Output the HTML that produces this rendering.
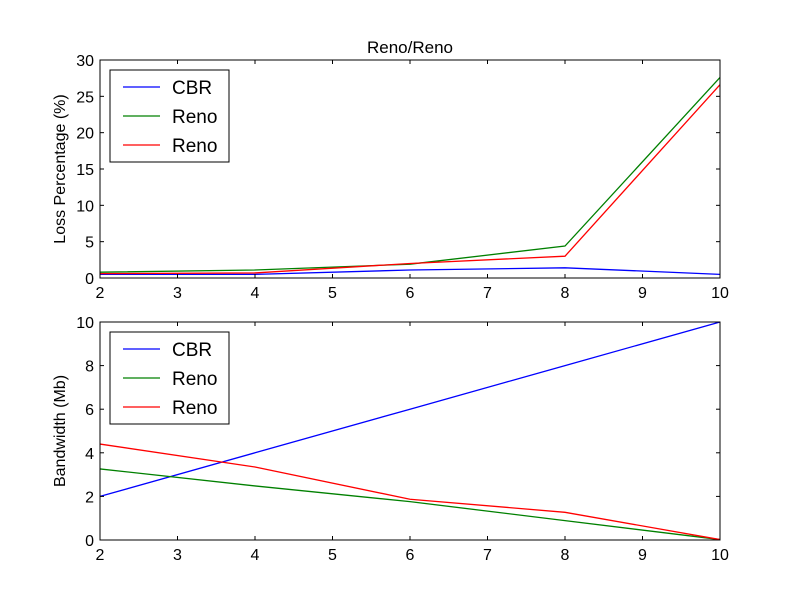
<!DOCTYPE html>
<html><head><meta charset="utf-8"><style>body{margin:0;background:#fff}svg{display:block;font-family:"Liberation Sans",sans-serif}</style></head>
<body>
<svg id="c" width="800" height="600" xmlns="http://www.w3.org/2000/svg">
<rect width="800" height="600" fill="#fff"/>
</svg>
<script>
const xs=[2,4,6,8,10];
const lossCBR=[0.5,0.5,1.1,1.4,0.5];
const lossReno1=[0.8,1.1,1.9,4.4,27.6];
const lossReno2=[0.6,0.7,2.0,3.0,26.6];
const bwCBR=[2,4,6,8,10];
const bwReno1=[3.26,2.48,1.76,0.89,0.02];
const bwReno2=[4.4,3.35,1.87,1.27,0.02];
const xTicks=[2,3,4,5,6,7,8,9,10];
const topTicks=[0,5,10,15,20,25,30];
const botTicks=[0,2,4,6,8,10];
const svg=document.getElementById('c');
const NS='http://www.w3.org/2000/svg';
function mk(t,a,p){const e=document.createElementNS(NS,t);for(const k in a)e.setAttribute(k,a[k]);(p||svg).appendChild(e);return e;}
const L=100,R=720;
function sx(v){return L+(v-2)/8*(R-L);}
function panel(top,bot,ymax,yt,series,ylabel,title,name){
  const g=mk('g',{});
  
  
  const sy=v=>bot-v/ymax*(bot-top);
  const cols=['#0000ff','#008000','#ff0000'];
  series.forEach((s,i)=>{
    const pl=mk('polyline',{points:xs.map((x,j)=>sx(x)+','+sy(s[j])).join(' '),fill:'none',stroke:cols[i],'stroke-width':1.3},g);
    
    
  });
  mk('rect',{x:L,y:top,width:R-L,height:bot-top,fill:'none',stroke:'#000','stroke-width':1},g);
  xTicks.forEach(t=>{const x=sx(t);
    mk('line',{x1:x,x2:x,y1:bot,y2:bot-4,stroke:'#000'},g);
    mk('line',{x1:x,x2:x,y1:top,y2:top+4,stroke:'#000'},g);
    const tx=mk('text',{x:x,y:bot+20,'text-anchor':'middle','font-size':16},g);tx.textContent=t;
    
    });
  yt.forEach(t=>{const y=sy(t);
    mk('line',{x1:L,x2:L+4,y1:y,y2:y,stroke:'#000'},g);
    mk('line',{x1:R,x2:R-4,y1:y,y2:y,stroke:'#000'},g);
    const tx=mk('text',{x:L-6,y:y+6,'text-anchor':'end','font-size':16},g);tx.textContent=t;
    
    });
  const yl=mk('text',{x:0,y:0,transform:`translate(65,${(top+bot)/2}) rotate(-90)`,'text-anchor':'middle','font-size':16},g);
  yl.textContent=ylabel;
  
  
  if(title){const tt=mk('text',{x:(L+R)/2,y:top-7,'text-anchor':'middle','font-size':17},g);tt.textContent=title;
    
    }
  const lg=mk('g',{},g);
  
  
  mk('rect',{x:110,y:top+10,width:119,height:92,fill:'#fff',stroke:'#000'},lg);
  ['CBR','Reno','Reno'].forEach((n,i)=>{const y=top+27+i*29;
    mk('line',{x1:123,x2:160,y1:y,y2:y,stroke:cols[i],'stroke-width':1.3},lg);
    const t=mk('text',{x:172,y:y+7,'font-size':19},lg);t.textContent=n;
    
    });
}
panel(60,278,30,topTicks,[lossCBR,lossReno1,lossReno2],'Loss Percentage (%)','Reno/Reno','loss-panel');
panel(322,540,10,botTicks,[bwCBR,bwReno1,bwReno2],'Bandwidth (Mb)','','bandwidth-panel');
</script>
</body></html>
